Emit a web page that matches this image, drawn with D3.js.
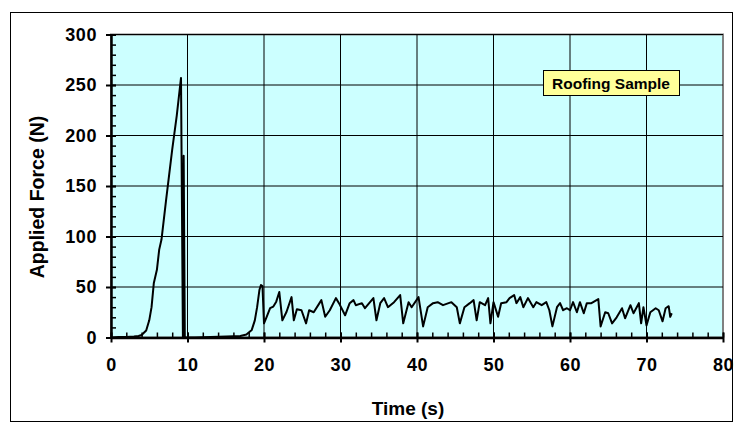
<!DOCTYPE html>
<html lang="en">
	<head>
		<meta charset="UTF-8">
		<title>Roofing Sample - Applied Force vs Time</title>
		<script src="https://d3js.org/d3.v7.min.js"></script>
		<style>
			body { margin: 0; background: #fff; }
			text { font-family: "Liberation Sans", Arial, sans-serif; font-weight: bold; }
		</style>
	</head>
	<body>
		<div id="chart"></div>

		<script type="text/javascript">
			// Force trace (time in s, force in N)
			const timeS = [
				0, 1, 2, 3, 3.6, 4.0, 4.6, 5.0, 5.3, 5.6, 6.0, 6.3, 6.6, 7.2, 8.0, 8.6, 9.15,
				9.4, 9.5, 9.65,
				11, 13, 15.1, 16.9, 17.7, 18.4, 18.8, 19.1, 19.4, 19.6, 19.8,
				20.0, 20.35, 20.8, 21.2, 21.6, 22.0, 22.4, 22.95, 23.6, 23.9, 24.3, 24.9, 25.5,
				25.9, 26.5, 27.5, 28.0, 28.6, 29.4, 29.8, 30.6, 31.2, 31.7, 32.0, 32.8, 33.2,
				34.3, 34.7, 35.2, 35.7, 36.2, 37.0, 37.8, 38.2, 38.9, 39.3, 40.2, 40.8, 41.4,
				42.1, 42.7, 43.4, 44.5, 45.2, 45.6, 46.2, 46.9, 47.4, 47.8, 48.2, 48.9, 49.3,
				49.6, 50.0, 50.6, 51.0, 51.7, 52.1, 52.7, 53.0, 53.5, 53.9, 54.5, 55.2, 55.6,
				56.3, 56.9, 57.3, 57.7, 58.3, 58.7, 59.1, 59.6, 60.0, 60.4, 60.9, 61.3, 61.8,
				62.2, 62.8, 63.7, 64.0, 64.6, 65.0, 65.5, 66.1, 66.8, 67.2, 67.9, 68.3, 69.0,
				69.3, 69.6, 70.0, 70.5, 71.2, 71.6, 72.1, 72.5, 72.9, 73.1, 73.3
			];
			const forceN = [
				0, 0.5, 0.5, 1, 1.5, 2.5, 7, 17, 30, 54, 67, 87, 97, 136, 186, 220, 257,
				0, 180, 0,
				0, 0.5, 1, 1.5, 3, 7.5, 17, 30, 47, 52, 51,
				14, 20.5, 29, 30.5, 35.5, 45, 17, 25.5, 40, 17, 28, 27, 14,
				27, 25, 37, 20.5, 27, 39, 34, 22, 34, 37, 32, 34, 29,
				39, 17, 34, 39, 30, 35, 42, 14, 35, 30, 40, 11, 30,
				34, 35, 32, 35, 30, 14, 30, 34, 37, 17, 35, 32, 39,
				14, 35, 20.5, 34, 35, 39, 42, 34, 40, 30, 39, 30, 35,
				32, 35, 27, 11, 30, 34, 27, 29, 27, 35, 25, 35, 24,
				34, 34, 38, 11, 25, 24, 14, 20, 29, 19, 32, 24, 34,
				14, 30, 12, 25, 29, 27, 16, 29, 31, 20.5, 24
			];

			const xTicks = [0, 10, 20, 30, 40, 50, 60, 70, 80];
			const yTicks = [0, 50, 100, 150, 200, 250, 300];
			const legendLabel = 'Roofing Sample';

			const W = 735, H = 424;
			const plot = { left: 111, right: 723, top: 34.5, bottom: 337.5 };
			const fontFamily = '"Liberation Sans", Arial, sans-serif';

			const svg = d3.select('#chart')
				.append('svg')
				.attr('width', W)
				.attr('height', H);

			// outer chart frame
			svg.append('rect')
				.attr('x', 10.5).attr('y', 12.5)
				.attr('width', 722).attr('height', 409)
				.attr('fill', '#fff')
				.attr('stroke', '#000')
				.attr('stroke-width', 1);

			const x = d3.scaleLinear().domain([0, 80]).range([plot.left, plot.right]);
			const y = d3.scaleLinear().domain([0, 300]).range([plot.bottom, plot.top]);

			// plot area
			svg.append('rect')
				.attr('x', plot.left).attr('y', plot.top)
				.attr('width', plot.right - plot.left)
				.attr('height', plot.bottom - plot.top)
				.attr('fill', '#ccffff')
				.attr('stroke', '#808080')
				.attr('stroke-width', 2);

			// gridlines
			svg.append('g')
				.selectAll('line')
				.data(xTicks.slice(1, -1))
				.enter().append('line')
				.attr('x1', d => x(d)).attr('x2', d => x(d))
				.attr('y1', plot.top).attr('y2', plot.bottom)
				.attr('stroke', '#000').attr('stroke-width', 1);

			svg.append('g')
				.selectAll('line')
				.data(yTicks.slice(1))
				.enter().append('line')
				.attr('x1', plot.left).attr('x2', plot.right)
				.attr('y1', d => y(d)).attr('y2', d => y(d))
				.attr('stroke', '#000').attr('stroke-width', 1);

			// force trace
			const pts = timeS.map((t, i) => [t, forceN[i]]);
			svg.append('path')
				.datum(pts)
				.attr('fill', 'none')
				.attr('stroke', '#000')
				.attr('stroke-width', 2)
				.attr('stroke-linejoin', 'round')
				.attr('d', d3.line().x(d => x(d[0])).y(d => y(d[1])));

			// axes: minor ticks inside, major ticks crossing
			const xMinor = d3.axisBottom(x).tickValues(d3.range(0, 81, 2)).tickSizeInner(-5).tickSizeOuter(0).tickFormat('');
			const yMinor = d3.axisLeft(y).tickValues(d3.range(0, 301, 10)).tickSizeInner(-5).tickSizeOuter(0).tickFormat('');

			svg.append('g')
				.attr('transform', `translate(0,${plot.bottom})`)
				.call(xMinor)
				.call(g => g.selectAll('line').attr('stroke-width', 1.5));

			svg.append('g')
				.attr('transform', `translate(${plot.left},0)`)
				.call(yMinor)
				.call(g => g.selectAll('line').attr('stroke-width', 1.5));

			const xAxis = svg.append('g')
				.attr('transform', `translate(0,${plot.bottom})`)
				.call(d3.axisBottom(x).tickValues(xTicks).tickSize(5).tickSizeOuter(0).tickPadding(16));
			xAxis.selectAll('line').attr('y1', -5).attr('stroke-width', 2);
			xAxis.select('.domain').attr('stroke-width', 2.5);
			xAxis.selectAll('text').attr('font-size', 18).attr('fill', '#000')
				.attr('font-family', fontFamily).attr('letter-spacing', 0.6);

			const yAxis = svg.append('g')
				.attr('transform', `translate(${plot.left},0)`)
				.call(d3.axisLeft(y).tickValues(yTicks).tickSize(5).tickSizeOuter(0).tickPadding(9));
			yAxis.selectAll('line').attr('x1', 5).attr('stroke-width', 2);
			yAxis.select('.domain').attr('stroke-width', 2.5);
			yAxis.selectAll('text').attr('font-size', 18).attr('fill', '#000')
				.attr('font-family', fontFamily).attr('letter-spacing', 0.6);

			// axis titles
			svg.append('text')
				.attr('x', (plot.left + plot.right) / 2 - 9)
				.attr('y', 415)
				.attr('text-anchor', 'middle')
				.attr('font-size', 19)
				.text('Time (s)');

			svg.append('text')
				.attr('transform', 'translate(44,197) rotate(-90)')
				.attr('text-anchor', 'middle')
				.attr('font-size', 19.5)
				.text('Applied Force (N)');

			// legend box
			const lg = svg.append('g').attr('transform', 'translate(543,70)');
			lg.append('rect')
				.attr('x', 0.5).attr('y', 0.5)
				.attr('width', 136).attr('height', 25)
				.attr('fill', '#ffff99')
				.attr('stroke', '#000')
				.attr('stroke-width', 1);
			lg.append('text')
				.attr('x', 68).attr('y', 18.5)
				.attr('text-anchor', 'middle')
				.attr('font-size', 15.5)
				.text(legendLabel);
		</script>
	</body>
</html>
